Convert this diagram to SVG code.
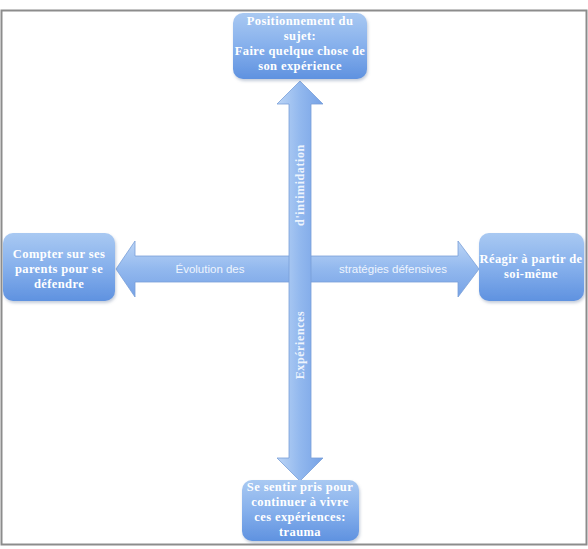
<svg xmlns="http://www.w3.org/2000/svg" width="588" height="549" viewBox="0 0 588 549">
<defs>
<linearGradient id="nodeGrad" x1="0" y1="0" x2="0" y2="1">
<stop offset="0" stop-color="#a9c9f2"/>
<stop offset="0.5" stop-color="#86b0ec"/>
<stop offset="1" stop-color="#5f92e0"/>
</linearGradient>
<linearGradient id="hGrad" x1="0" y1="0" x2="0" y2="1">
<stop offset="0" stop-color="#bcd5f6"/>
<stop offset="0.5" stop-color="#92b8ee"/>
<stop offset="1" stop-color="#76a2e6"/>
</linearGradient>
<linearGradient id="vGrad" x1="0" y1="0" x2="1" y2="0">
<stop offset="0" stop-color="#bcd5f6"/>
<stop offset="0.5" stop-color="#92b8ee"/>
<stop offset="1" stop-color="#76a2e6"/>
</linearGradient>
<filter id="sh" x="-10%" y="-10%" width="130%" height="130%">
<feDropShadow dx="1" dy="2" stdDeviation="1.5" flood-color="#6a7fa0" flood-opacity="0.4"/>
</filter>
</defs>
<style>
.node rect{fill:url(#nodeGrad);filter:url(#sh);}
.nt{font-family:"Liberation Serif","Times New Roman",serif;font-weight:bold;font-size:12.5px;fill:#ffffff;text-anchor:middle;letter-spacing:0.4px;}
.at{font-family:"Liberation Sans",Arial,sans-serif;font-size:11.5px;fill:#eef4fd;text-anchor:middle;}
.vt{font-family:"Liberation Serif","Times New Roman",serif;font-weight:bold;font-size:12px;fill:#eef4fd;text-anchor:middle;letter-spacing:0.6px;}
</style>
<rect x="1.5" y="10.5" width="585" height="534" fill="#ffffff" stroke="#8c8c8c" stroke-width="2"/>
<g id="connectors">
<path d="M116,269 L135,241 L135,256 L458,256 L458,241 L479,269 L458,297 L458,282 L135,282 L135,297 Z" fill="url(#hGrad)" stroke="#7a9fd8" stroke-width="0.8"/>
<path d="M300,81 L323,104 L311,104 L311,458 L323,458 L300,481 L277,458 L289,458 L289,104 L277,104 Z" fill="url(#vGrad)" stroke="#7a9fd8" stroke-width="0.8"/>
<text class="at" x="210" y="273">Évolution des</text>
<text class="at" x="393" y="273">stratégies défensives</text>
<text class="vt" transform="translate(304,185) rotate(-90)">d'intimidation</text>
<text class="vt" transform="translate(304,345) rotate(-90)">Expériences</text>
</g>
<g id="node-top" class="node">
<rect x="233" y="13" width="134" height="66" rx="10"/>
<text class="nt" x="300" y="25">Positionnement du</text>
<text class="nt" x="300" y="40">sujet:</text>
<text class="nt" x="300" y="55">Faire quelque chose de</text>
<text class="nt" x="300" y="70">son expérience</text>
</g>
<g id="node-left" class="node">
<rect x="3" y="233" width="112" height="68" rx="10"/>
<text class="nt" x="59" y="258">Compter sur ses</text>
<text class="nt" x="59" y="273">parents pour se</text>
<text class="nt" x="59" y="288">défendre</text>
</g>
<g id="node-right" class="node">
<rect x="479" y="233" width="105" height="68" rx="10"/>
<text class="nt" x="531" y="263">Réagir à partir de</text>
<text class="nt" x="531" y="278">soi-même</text>
</g>
<g id="node-bottom" class="node">
<rect x="242" y="480" width="117" height="61" rx="10"/>
<text class="nt" x="300" y="491">Se sentir pris pour</text>
<text class="nt" x="300" y="506">continuer à vivre</text>
<text class="nt" x="300" y="521">ces expériences:</text>
<text class="nt" x="300" y="536">trauma</text>
</g>
</svg>
